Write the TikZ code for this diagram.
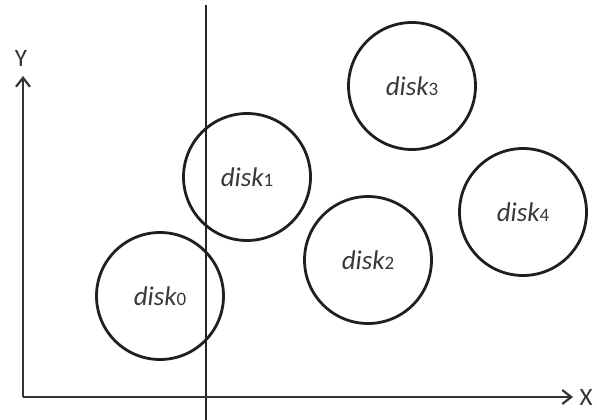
\documentclass[tikz,border=0pt]{standalone}
\usepackage{fontspec}
\setmainfont{Carlito}
\usetikzlibrary{arrows.meta}
\tikzset{
  disk/.style={draw=black!88, line width=2.8pt, circle, minimum size=127pt, inner sep=0pt, text=black!78},
  axis/.style={draw=black!80, line width=2.4pt, -{Straight Barb[length=9pt,width=14pt,line width=2.2pt]}},
  divider/.style={draw=black!85, line width=1.5pt},
  axlabel/.style={font=\fontsize{25}{25}\selectfont, text=black!80, inner sep=0pt}
}
\newcommand{\disklabel}[1]{{\fontsize{27}{27}\selectfont\itshape disk}{\fontsize{19}{19}\selectfont #1}}
\begin{document}
\begin{tikzpicture}[x=1pt,y=-1pt]
\useasboundingbox (0,0) rectangle (597,420);
\coordinate (O) at (23,397);
\coordinate (Yend) at (23,76);
\coordinate (Xend) at (573,397);
\coordinate (Vtop) at (206,5);
\coordinate (Vbot) at (206,420);
\draw[divider] (Vtop) -- (Vbot);
\draw[axis] (O) -- (Yend);
\draw[axis] (O) -- (Xend);
\node[axlabel] (ylab) at (21,58) {Y};
\node[axlabel] (xlab) at (586,397) {X};
\node[disk] (d0) at (160,296) {\disklabel{0}};
\node[disk] (d1) at (247,177) {\disklabel{1}};
\node[disk] (d2) at (368,260) {\disklabel{2}};
\node[disk] (d3) at (412,86) {\disklabel{3}};
\node[disk] (d4) at (523,212) {\disklabel{4}};
\end{tikzpicture}
\end{document}
